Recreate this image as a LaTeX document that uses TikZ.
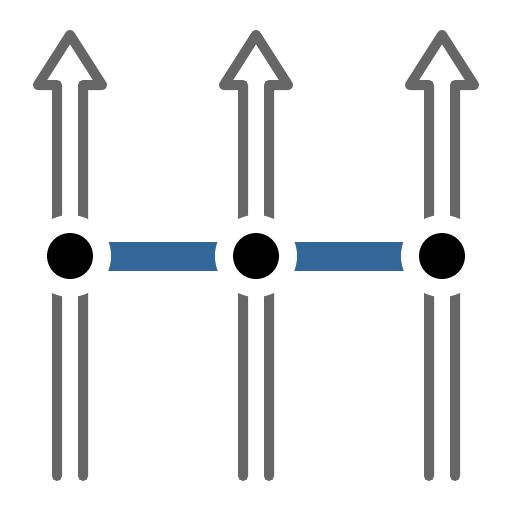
\documentclass[tikz,border=0pt]{standalone}
\usepackage{amsmath}

\definecolor{linkgray}{HTML}{666666}
\definecolor{bondblue}{HTML}{336699}

\tikzset{
  shaft/.style={draw=linkgray, line width=10pt, line cap=round, line join=round},
  bond/.style={draw=bondblue, line width=29pt},
  halo/.style={circle, fill=white, minimum size=82pt, inner sep=0pt},
  site/.style={circle, fill=black, minimum size=46pt, inner sep=0pt}
}

\begin{document}
\begin{tikzpicture}[x=1pt,y=-1pt]
    \useasboundingbox (0,0) rectangle (512,512);

    %Punkter
        \coordinate (c1) at (70,256);
        \coordinate (c2) at (256,256);
        \coordinate (c3) at (442,256);

    %Piler
        \foreach \x in {70,256,442}
            \draw[shaft] (\x-13,476) -- (\x-13,85) -- (\x-32,85) -- (\x,35)
                -- (\x+32,85) -- (\x+13,85) -- (\x+13,476);

    %Bindinger
        \draw[bond] (c1) -- (c2);
        \draw[bond] (c2) -- (c3);

    %Atomer
        \node[halo] (h1) at (c1) {};
        \node[halo] (h2) at (c2) {};
        \node[halo] (h3) at (c3) {};
        \node[site] (s1) at (c1) {};
        \node[site] (s2) at (c2) {};
        \node[site] (s3) at (c3) {};

\end{tikzpicture}
\end{document}
